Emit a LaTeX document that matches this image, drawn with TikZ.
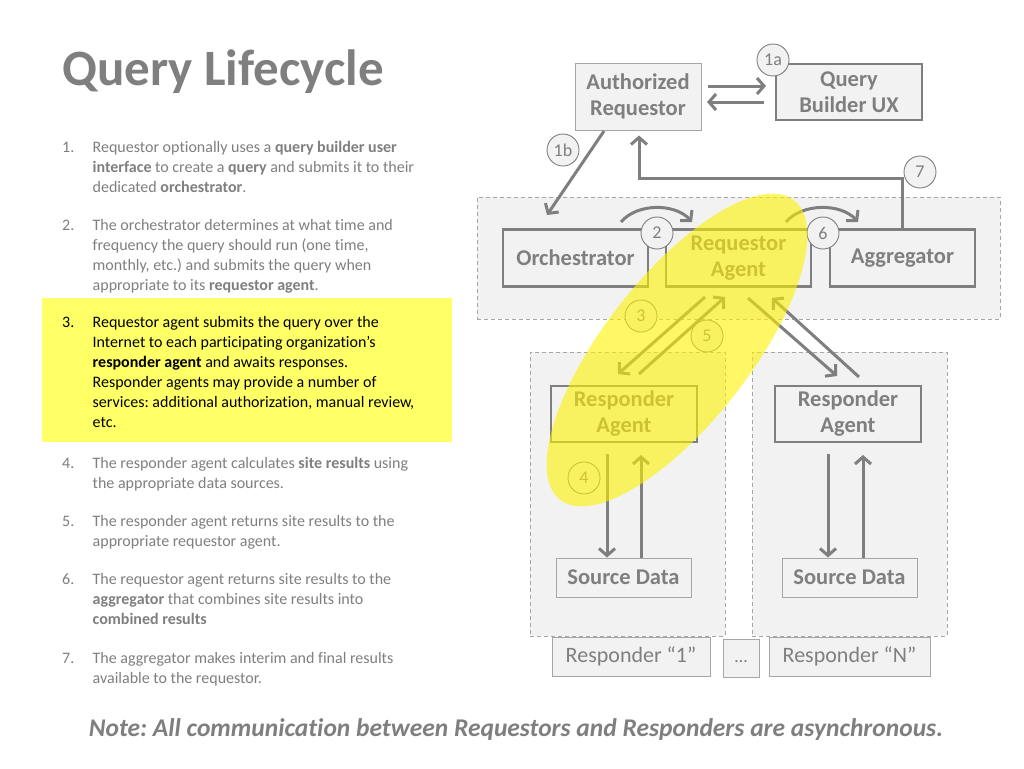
\documentclass[tikz,border=0pt]{standalone}
\usepackage{fontspec}
\setmainfont{Carlito}[Ligatures=NoCommon]
\frenchspacing
\usetikzlibrary{arrows.meta,calc}
\definecolor{tgray}{HTML}{7F7F7F}
\definecolor{bgray}{HTML}{F2F2F2}
\definecolor{lgray}{HTML}{A6A6A6}
\definecolor{hyellow}{HTML}{FFFF66}
\newcommand\myboxfont{\fontsize{22.5}{26}\selectfont\bfseries}
\newcommand\mylistfont{\fontsize{16}{20}\selectfont}
\tikzset{
  mainbox/.style={draw=tgray, line width=2.6pt, fill=bgray, text=tgray, font=\myboxfont, align=center, inner sep=0pt},
  thinbox/.style={draw=lgray, line width=1pt, fill=bgray, text=tgray, font=\myboxfont, align=center, inner sep=0pt},
  labbox/.style={draw=lgray, line width=1pt, fill=bgray, text=tgray, font=\fontsize{22}{26}\selectfont, align=center, inner sep=0pt},
  zone/.style={draw=lgray, line width=0.9pt, fill=bgray, dash pattern=on 4pt off 3pt, inner sep=0pt},
  numc/.style={circle, draw=tgray, line width=0.9pt, fill=bgray, minimum size=32pt, inner sep=0pt, text=tgray, font=\fontsize{18}{18}\selectfont},
  arr/.style={draw=tgray, line width=3pt, -{Straight Barb[length=7pt,width=16pt]}},
  listnum/.style={anchor=base west, inner sep=0pt, font=\mylistfont, text=tgray},
  listtext/.style={anchor=north west, inner sep=0pt, align=left, font=\mylistfont, text=tgray}
}
\begin{document}
\begin{tikzpicture}[x=1pt,y=-1pt]
\useasboundingbox[fill=white] (0,0) rectangle (1024,768);

% ---- title
\node[anchor=base west, inner sep=0pt, font=\fontsize{51}{60}\selectfont\bfseries, text=tgray] (title) at (62,85) {Query Lifecycle};

% ---- list
\node[fill=hyellow, minimum width=410pt, minimum height=144pt, anchor=north west, inner sep=0pt] (hl) at (42,298) {};

\node[listnum] (n1) at (62,152) {1.};
\node[listtext] (t1) at (92.5,138) {\strut Requestor optionally uses a \textbf{query builder user}\\\textbf{interface} to create a \textbf{query} and submits it to their\\dedicated \textbf{orchestrator}.};
\node[listnum] (n2) at (62,230) {2.};
\node[listtext] (t2) at (92.5,216) {\strut The orchestrator determines at what time and\\frequency the query should run (one time,\\monthly, etc.) and submits the query when\\appropriate to its \textbf{requestor agent}.};
\node[listnum, text=black] (n3) at (62,327) {3.};
\node[listtext, text=black] (t3) at (92.5,313) {\strut Requestor agent submits the query over the\\Internet to each participating organization’s\\\textbf{responder agent} and awaits responses.\\Responder agents may provide a number of\\services: additional authorization, manual review,\\etc.};
\node[listnum] (n4) at (62,468) {4.};
\node[listtext] (t4) at (92.5,454) {\strut The responder agent calculates \textbf{site results} using\\the appropriate data sources.};
\node[listnum] (n5) at (62,526) {5.};
\node[listtext] (t5) at (92.5,512) {\strut The responder agent returns site results to the\\appropriate requestor agent.};
\node[listnum] (n6) at (62,584) {6.};
\node[listtext] (t6) at (92.5,570) {\strut The requestor agent returns site results to the\\\textbf{aggregator} that combines site results into\\\textbf{combined results}};
\node[listnum] (n7) at (62,663) {7.};
\node[listtext] (t7) at (92.5,649) {\strut The aggregator makes interim and final results\\available to the requestor.};

% ---- zones
\node[zone, minimum width=523pt, minimum height=122pt] (reqzone) at (738.5,258) {};
\node[zone, minimum width=195pt, minimum height=284pt] (zone1) at (627.5,494) {};
\node[zone, minimum width=195pt, minimum height=284pt] (zoneN) at (849.5,494) {};

% ---- boxes
\node[thinbox, minimum width=126pt, minimum height=67pt] (ar) at (638,96.5) {Authorized\\Requestor};
\node[mainbox, minimum width=146pt, minimum height=56pt] (qb) at (849,92) {Query\\Builder UX};
\node[mainbox, minimum width=145pt, minimum height=57pt] (orch) at (575.5,258) {Orchestrator};
\node[mainbox, minimum width=145pt, minimum height=57pt] (ra) at (738.5,258) {Requestor\\Agent};
\node[mainbox, minimum width=145pt, minimum height=57pt] (agg) at (902.5,258) {Aggregator};
\node[mainbox, minimum width=146pt, minimum height=56pt] (rsp1) at (624,414) {Responder\\Agent};
\node[mainbox, minimum width=146pt, minimum height=56pt] (rspN) at (848,414) {Responder\\Agent};
\node[thinbox, minimum width=135pt, minimum height=39pt] (sd1) at (623.5,577.5) {Source Data};
\node[thinbox, minimum width=135pt, minimum height=39pt] (sdN) at (849.5,577.5) {Source Data};
\node[labbox, minimum width=158pt, minimum height=39pt] (lab1) at (631,656.5) {Responder “1”};
\node[labbox, minimum width=36pt, minimum height=38pt, text depth=0pt] (labdots) at (741,658) {\raisebox{-4pt}{\fontsize{18}{18}\selectfont …}};
\node[labbox, minimum width=161pt, minimum height=39pt] (labN) at (849.5,656.5) {Responder “N”};

% ---- connector end points
\coordinate (aq1s) at (708,86);   \coordinate (aq1e) at (766,86);
\coordinate (aq2s) at (764,102);  \coordinate (aq2e) at (707,102);
\coordinate (b1s) at (604,131);   \coordinate (b1e) at (547,215);
\coordinate (s7) at (639,178);
\coordinate (c2s) at (621,222);   \coordinate (c2e) at (692,222);
\coordinate (c6s) at (786,222);   \coordinate (c6e) at (858,222);
\coordinate (a3s) at (705,297);   \coordinate (a3e) at (618,374);
\coordinate (a5s) at (639,374);   \coordinate (a5e) at (725,297);
\coordinate (aNs) at (748,298);   \coordinate (aNe) at (837,376);
\coordinate (bNs) at (859,377);   \coordinate (bNe) at (772,298);
\coordinate (d1s) at (607,454);   \coordinate (u1e) at (641,455);
\coordinate (dNs) at (828,454);   \coordinate (uNe) at (863,455);

% ---- connectors
\draw[arr] (aq1s) -- (aq1e);
\draw[arr] (aq2s) -- (aq2e);
\draw[arr] (b1s) -- (b1e);
\draw[arr, shorten >=5pt] (agg.north) |- (s7) -- (s7 |- ar.south);
\draw[arr] (c2s) .. controls (637,203) and (675,203) .. (c2e);
\draw[arr] (c6s) .. controls (802,203) and (841,203) .. (c6e);
\draw[arr] (a3s) -- (a3e);
\draw[arr] (a5s) -- (a5e);
\draw[arr] (aNs) -- (aNe);
\draw[arr] (bNs) -- (bNe);
\draw[arr] (d1s) -- (d1s |- sd1.north);
\draw[arr] (u1e |- sd1.north) -- (u1e);
\draw[arr] (dNs) -- (dNs |- sdN.north);
\draw[arr] (uNe |- sdN.north) -- (uNe);

% ---- step circles
\node[numc] (k1a) at (773,60) {1a};
\node[numc] (k1b) at (563,150) {1b};
\node[numc] (k7) at (920,172) {7};
\node[numc] (k2) at (657,233) {2};
\node[numc] (k6) at (823,233) {6};
\node[numc] (k3) at (641,316) {3};
\node[numc] (k5) at (707,336) {5};
\node[numc] (k4) at (584,478) {4};

% ---- highlight ellipse
\fill[yellow, opacity=0.6, rotate around={52:(677,350)}] (677,350) ellipse [x radius=190pt, y radius=73pt];

% ---- note
\node[anchor=base, inner sep=0pt, font=\fontsize{25.5}{30}\selectfont\bfseries\itshape, text=tgray] (note) at (516,736) {Note: All communication between Requestors and Responders are asynchronous.};
\end{tikzpicture}
\end{document}
